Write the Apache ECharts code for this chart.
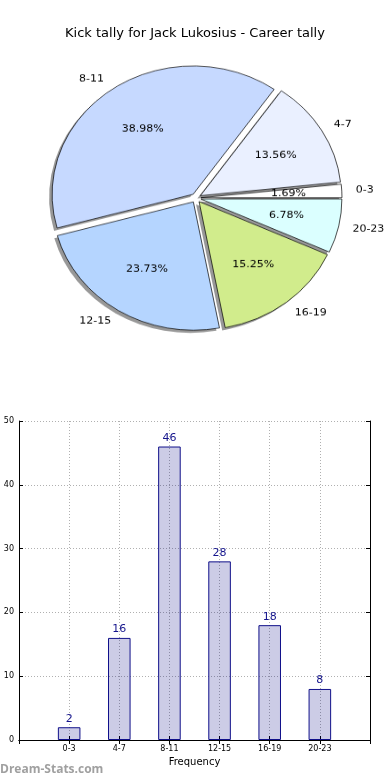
<!DOCTYPE html>
<html>
<head>
<meta charset="utf-8">
<script src="https://cdn.jsdelivr.net/npm/echarts@6/dist/echarts.min.js"></script>
<style>
  html, body { margin: 0; padding: 0; background: #fff; }
  #main { position: absolute; left: 0; top: 0; width: 390px; height: 780px; }
  #pie { position: absolute; left: 0; top: 0; width: 390px; height: 400px;
         transform: scaleY(0.91); transform-origin: 0 198px; }
</style>
</head>
<body>
<div id="main"></div>
<div id="pie"></div>
<script>
// ---- data ----
const title = 'Kick tally for Jack Lukosius - Career tally';
const categories = ['0-3', '4-7', '8-11', '12-15', '16-19', '20-23'];
const kicks = [2, 16, 46, 28, 18, 8];
const xAxisName = 'Frequency';
const watermark = 'Dream-Stats.com';
// ---- styles ----
const sliceColors = ['#ffffff', '#eaf0ff', '#c6d9ff', '#b5d5ff', '#d1ec8c', '#dbffff'];

const FONT = 'DejaVu Sans';
const R = 141;
const C = [196, 198];
const EXPLODE = 5;

// ---- main chart (title + bars) ----
const main = echarts.init(document.getElementById('main'), null, { renderer: 'canvas' });
const barCats = [''].concat(categories, ['']);
const barData = [null].concat(kicks, [null]);
main.setOption({
  animation: false,
  backgroundColor: '#fff',
  title: {
    text: title, left: 'center', top: 22,
    textStyle: { fontFamily: FONT, fontSize: 13, fontWeight: 'normal', color: '#000' }
  },
  graphic: [{
    type: 'text', left: 0, top: 764,
    style: { text: watermark, fontFamily: 'Open Sans', fontWeight: 'bold', fontSize: 12, fill: '#a0a0a0' }
  }],
  grid: { left: 19, right: 20, top: 421, bottom: 40, containLabel: false },
  xAxis: [{
    type: 'category', data: barCats, boundaryGap: false, position: 'bottom',
    name: xAxisName, nameLocation: 'middle', nameGap: 17,
    nameTextStyle: { fontFamily: FONT, fontSize: 10, color: '#000' },
    axisLine: { show: true, lineStyle: { color: '#000', width: 1 } },
    axisTick: { show: true, inside: true, length: 4, lineStyle: { color: '#000' } },
    axisLabel: { fontFamily: FONT, fontSize: 8, color: '#000', margin: 5, interval: 0 },
    splitLine: { show: true, lineStyle: { color: '#b0b0b0', type: [1, 2], width: 1 } }
  }, {
    type: 'category', data: barCats, boundaryGap: false, position: 'top',
    axisLine: { show: true, lineStyle: { color: '#000', width: 1 } },
    axisTick: { show: true, inside: true, length: 4, lineStyle: { color: '#000' } },
    axisLabel: { show: false }, splitLine: { show: false }
  }],
  yAxis: [{
    type: 'value', min: 0, max: 50, interval: 10, position: 'left',
    axisLine: { show: true, lineStyle: { color: '#000', width: 1 } },
    axisTick: { show: true, inside: true, length: 4, lineStyle: { color: '#000' } },
    axisLabel: { fontFamily: FONT, fontSize: 8, color: '#000', margin: 5 },
    splitLine: { show: true, lineStyle: { color: '#b0b0b0', type: [1, 2], width: 1 } }
  }, {
    type: 'value', min: 0, max: 50, interval: 10, position: 'right',
    axisLine: { show: true, lineStyle: { color: '#000', width: 1 } },
    axisTick: { show: true, inside: true, length: 4, lineStyle: { color: '#000' } },
    axisLabel: { show: false }, splitLine: { show: false }
  }],
  series: [{
    type: 'bar', xAxisIndex: 0, yAxisIndex: 0,
    data: barData, barWidth: '45%',
    itemStyle: { color: 'rgba(0,0,128,0.2)', borderColor: '#10108a', borderWidth: 1 },
    label: { show: true, position: 'top', distance: 3, fontFamily: FONT, fontSize: 11, color: '#14148c' },
    emphasis: { disabled: true }
  }]
});

// ---- pie (drawn in a vertically squeezed layer to give the elliptical pie) ----
const pie = echarts.init(document.getElementById('pie'), null, { renderer: 'canvas' });
const total = kicks.reduce((a, b) => a + b, 0);
const baseData = (withColor) => categories.map((c, i) => {
  const d = { name: c, value: kicks[i], selected: true };
  if (withColor) d.itemStyle = { color: sliceColors[i] };
  return d;
});
const common = {
  type: 'pie', radius: [0, R], startAngle: 0, clockwise: false,
  selectedMode: 'multiple', selectedOffset: EXPLODE, avoidLabelOverlap: false,
  emphasis: { disabled: true }
};
pie.setOption({
  animation: false,
  series: [
    Object.assign({}, common, {
      // shadow layer
      center: [C[0] - 3, C[1] + 3], silent: true,
      data: baseData(false),
      itemStyle: { color: '#989898', borderWidth: 0 },
      label: { show: false }, labelLine: { show: false },
      select: { itemStyle: { color: '#989898', borderWidth: 0 } }
    }),
    Object.assign({}, common, {
      center: C,
      data: baseData(true),
      itemStyle: { borderColor: '#000', borderWidth: 0.7 },
      label: {
        show: true, position: 'outside', formatter: '{b}', distanceToLabelLine: 0,
        fontFamily: FONT, fontSize: 11, color: '#000'
      },
      labelLine: { show: false, length: 14, length2: 0 },
      select: { itemStyle: { borderColor: '#000', borderWidth: 0.7 } }
    }),
    Object.assign({}, common, {
      center: C, radius: [R * 0.2, R], silent: true,
      data: baseData(false),
      itemStyle: { color: 'rgba(0,0,0,0)', borderWidth: 0 },
      select: { itemStyle: { color: 'rgba(0,0,0,0)', borderWidth: 0 } },
      label: {
        show: true, position: 'inside',
        formatter: (p) => (p.value / total * 100).toFixed(2) + '%',
        fontFamily: FONT, fontSize: 11, color: '#000'
      },
      labelLine: { show: false }
    })
  ]
});
</script>
</body>
</html>
